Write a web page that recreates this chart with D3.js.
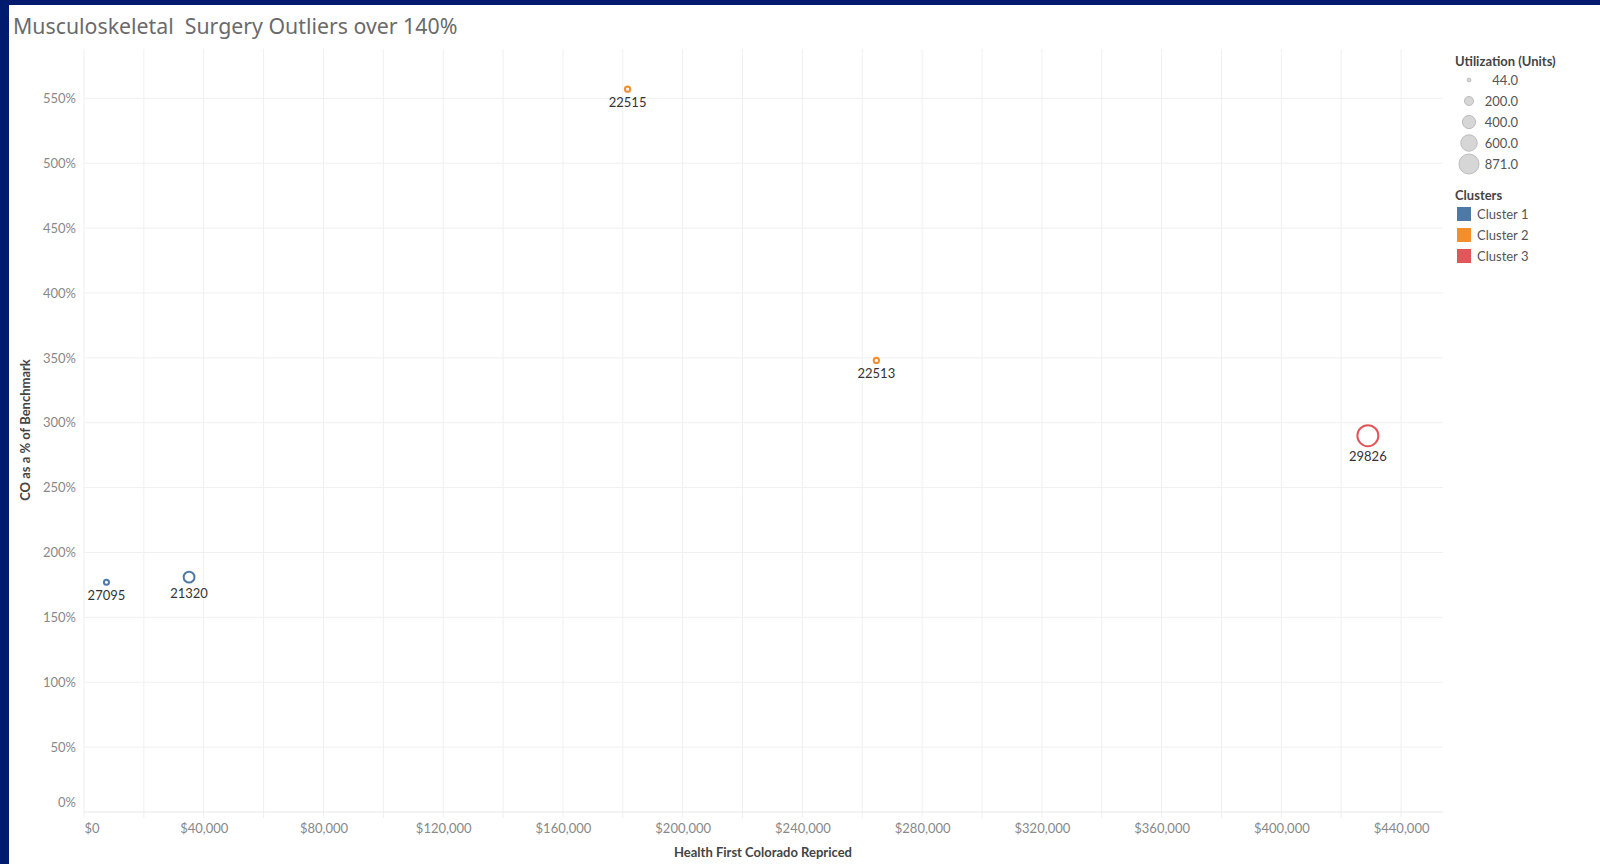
<!DOCTYPE html>
<html>
<head>
<meta charset="utf-8">
<script src="https://cdn.jsdelivr.net/npm/d3@7"></script>
<style>
  html, body { margin: 0; padding: 0; background: #fff; }
  body { font-family: Lato, "Noto Sans", sans-serif; }
  #chart { width: 1600px; height: 864px; }
</style>
</head>
<body>
<div id="chart"></div>
<script>
// data
const codes = ['22515', '22513', '29826', '27095', '21320']
const repriced = [181600, 264700, 428900, 7500, 35100]
const pctBenchmark = [5.57, 3.48, 2.90, 1.77, 1.81]
const utilization = [55, 55, 871, 50, 230]
const clusterOf = ['Cluster 2', 'Cluster 2', 'Cluster 3', 'Cluster 1', 'Cluster 1']

const clusters = ['Cluster 1', 'Cluster 2', 'Cluster 3']
const clusterColors = ['#4e79a7', '#f28e2b', '#e15759']
const sizeLegendValues = [44, 200, 400, 600, 871]
const xTicks = d3.range(0, 440001, 40000)
const yTicks = d3.range(0, 5.51, 0.5)

const points = codes.map((c, i) => ({
  code: c, x: repriced[i], y: pctBenchmark[i], u: utilization[i], cluster: clusterOf[i]
}))

const params = {
  width: 1600,
  height: 864,
  left: 84,
  right: 1443,
  top: 49,
  bottom: 812,
}

const svg = d3.select('#chart')
  .append('svg')
  .attr('width', params.width)
  .attr('height', params.height)

// dark frame
svg.append('rect').attr('x', 0).attr('y', 0).attr('width', params.width).attr('height', 5).attr('fill', '#001a6e')
svg.append('rect').attr('x', 0).attr('y', 0).attr('width', 9).attr('height', params.height).attr('fill', '#001a6e')

svg.append('text')
  .attr('x', 13)
  .attr('y', 34)
  .attr('font-size', 21.3)
  .attr('font-family', '"Noto Sans", sans-serif')
  .attr('fill', '#6a6a6a')
  .style('white-space', 'pre')
  .text('Musculoskeletal  Surgery Outliers over 140%')

const x = d3.scaleLinear().domain([0, 454000]).range([params.left, params.right])
const y = d3.scaleLinear().domain([0, 5.88]).range([params.bottom, params.top])
const r = d3.scaleSqrt().domain([0, 871]).range([0, 10.5])
const color = d3.scaleOrdinal().domain(clusters).range(clusterColors)

// gridlines
const grid = svg.append('g')
grid.selectAll('line.v')
  .data(d3.range(0, 454000, 20000))
  .enter()
  .append('line')
  .attr('x1', d => x(d)).attr('x2', d => x(d))
  .attr('y1', params.top).attr('y2', params.bottom + 6)
  .attr('stroke', '#f0f0f0')
grid.selectAll('line.h')
  .data(yTicks)
  .enter()
  .append('line')
  .attr('x1', params.left).attr('x2', params.right)
  .attr('y1', d => y(d)).attr('y2', d => y(d))
  .attr('stroke', d => d === 0 ? '#e8e8e8' : '#f0f0f0')

// axes
const xAxis = svg.append('g')
  .attr('transform', `translate(0,${params.bottom + 4})`)
  .call(d3.axisBottom(x).tickValues(xTicks).tickSize(0).tickPadding(8)
    .tickFormat(d => '$' + d3.format(',')(d)))
xAxis.select('.domain').remove()
xAxis.selectAll('text').attr('fill', '#888').attr('font-size', 13).attr('font-family', 'Lato, sans-serif')
xAxis.selectAll('.tick').filter(d => d === 0).select('text').attr('text-anchor', 'start').attr('x', 0)

const yAxis = svg.append('g')
  .attr('transform', `translate(${params.left - 8},0)`)
  .call(d3.axisLeft(y).tickValues(yTicks).tickSize(0).tickPadding(0)
    .tickFormat(d3.format('.0%')))
yAxis.select('.domain').remove()
yAxis.selectAll('text').attr('fill', '#888').attr('font-size', 13).attr('font-family', 'Lato, sans-serif')
yAxis.selectAll('.tick').filter(d => d === 0).select('text').attr('dy', '-0.4em')

svg.append('text')
  .attr('transform', 'translate(30,430) rotate(-90)')
  .attr('text-anchor', 'middle')
  .attr('font-size', 13)
  .attr('font-weight', 'bold')
  .attr('fill', '#444')
  .text('CO as a % of Benchmark')

svg.append('text')
  .attr('x', 763)
  .attr('y', 857)
  .attr('text-anchor', 'middle')
  .attr('font-size', 13)
  .attr('font-weight', 'bold')
  .attr('fill', '#444')
  .text('Health First Colorado Repriced')

// marks
const marks = svg.append('g')
marks.selectAll('circle')
  .data(points)
  .enter()
  .append('circle')
  .attr('cx', d => x(d.x))
  .attr('cy', d => y(d.y))
  .attr('r', d => r(d.u))
  .attr('fill', 'none')
  .attr('stroke', d => color(d.cluster))
  .attr('stroke-width', 2)

marks.selectAll('text')
  .data(points)
  .enter()
  .append('text')
  .attr('x', d => x(d.x))
  .attr('y', d => y(d.y) + r(d.u) + 15)
  .attr('text-anchor', 'middle')
  .attr('font-size', 13)
  .attr('fill', '#333')
  .text(d => d.code)

// size legend
const legend = svg.append('g').attr('font-size', 13)
legend.append('text')
  .attr('x', 1455).attr('y', 66)
  .attr('font-weight', 'bold').attr('fill', '#444')
  .text('Utilization (Units)')
const sizeRows = legend.selectAll('g.size')
  .data(sizeLegendValues)
  .enter()
  .append('g')
  .attr('transform', (d, i) => `translate(0,${80 + i * 21})`)
sizeRows.append('circle')
  .attr('cx', 1469).attr('cy', 0)
  .attr('r', d => r(d) - 0.5)
  .attr('fill', '#d6d6d6').attr('stroke', '#bdbdbd').attr('stroke-width', 1)
sizeRows.append('text')
  .attr('x', 1518).attr('y', 4.5)
  .attr('text-anchor', 'end').attr('fill', '#555')
  .text(d => d3.format('.1f')(d))

// color legend
legend.append('text')
  .attr('x', 1455).attr('y', 200)
  .attr('font-weight', 'bold').attr('fill', '#444')
  .text('Clusters')
const colorRows = legend.selectAll('g.col')
  .data(clusters)
  .enter()
  .append('g')
  .attr('transform', (d, i) => `translate(0,${214 + i * 21})`)
colorRows.append('rect')
  .attr('x', 1457).attr('y', -7).attr('width', 14).attr('height', 14)
  .attr('fill', d => color(d))
colorRows.append('text')
  .attr('x', 1477).attr('y', 4.5)
  .attr('fill', '#555')
  .text(d => d)
</script>
</body>
</html>
